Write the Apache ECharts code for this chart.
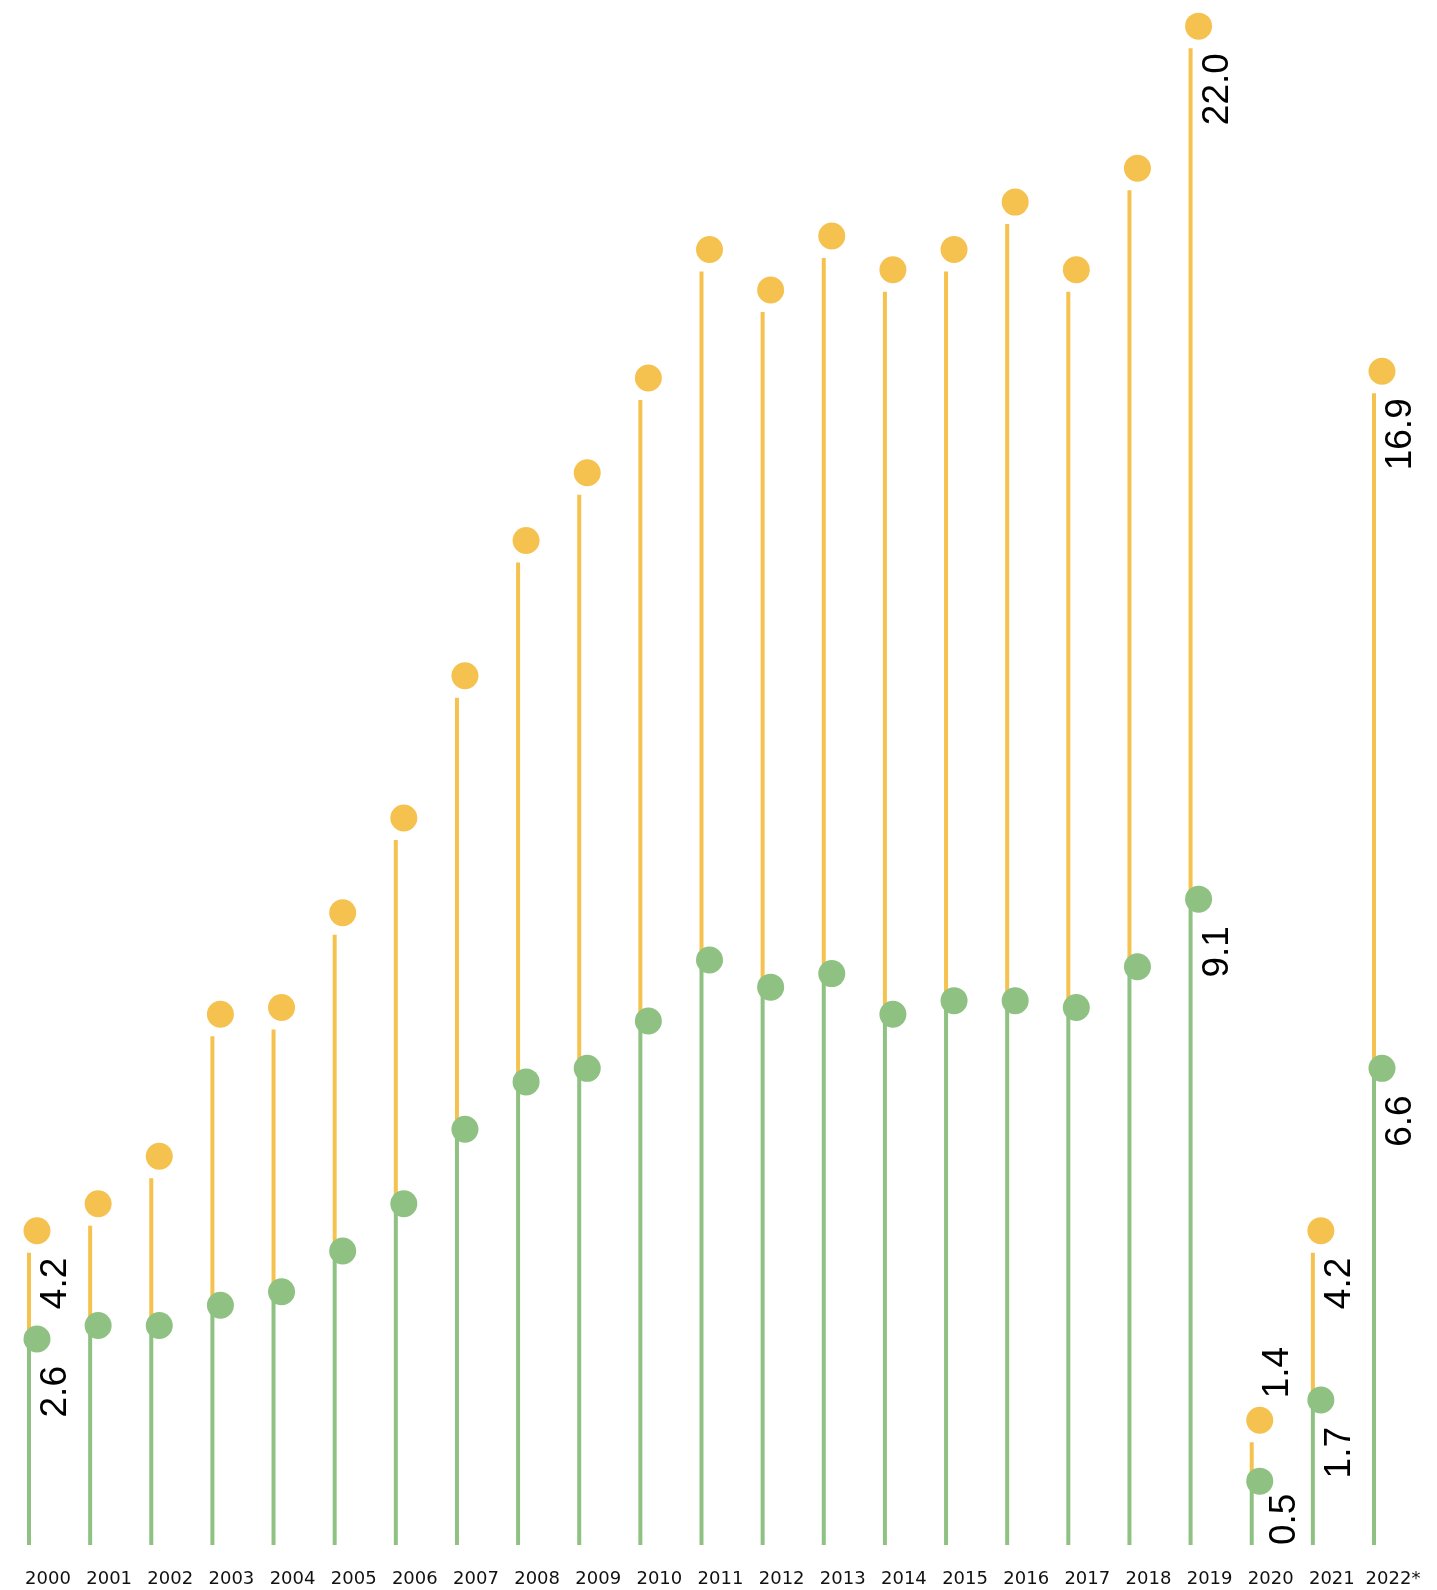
<!DOCTYPE html>
<html><head><meta charset="utf-8">
<script src="https://cdn.jsdelivr.net/npm/echarts@6/dist/echarts.min.js"></script>
<style>html,body{margin:0;padding:0;background:#fff}#c{width:1437px;height:1590px}</style>
</head><body><div id="c"></div>
<script>
const years = ['2000','2001','2002','2003','2004','2005','2006','2007','2008','2009','2010','2011','2012','2013','2014','2015','2016','2017','2018','2019','2020','2021','2022*'];
const greenValues = [2.6,2.8,2.8,3.1,3.3,3.9,4.6,5.7,6.4,6.6,7.3,8.2,7.8,8.0,7.4,7.6,7.6,7.5,8.1,9.1,0.5,1.7,6.6];
const yellowValues = [4.2,4.6,5.3,7.4,7.5,8.9,10.3,12.4,14.4,15.4,16.8,18.7,18.1,18.9,18.4,18.7,19.4,18.4,19.9,22.0,1.4,4.2,16.9];
const labelledYears = ['2000','2019','2020','2021','2022*'];

const YELLOW = '#F5C24F', GREEN = '#8EC182';
const FONT = '"Liberation Sans", Arial, sans-serif';
const AXIS_FONT = '"DejaVu Sans", sans-serif';
const DOT_LIFT = 30, DOT_DX = 8, R = 13.5, LW = 4;
const special = { '2020': { yellow: 'aboveDot', green: 'base' } };

function mkText(x, y, txt, align) {
  return { type: 'text', x: x, y: y, rotation: Math.PI / 2,
    style: { text: txt, fill: '#000', fontSize: 37, fontFamily: FONT, align: align, verticalAlign: 'middle' } };
}

function renderItem(params, api) {
  const i = api.value(0), g = api.value(1), yv = api.value(2);
  const base = api.coord([i, 0]);
  const pg = api.coord([i, g]);
  const py = api.coord([i, yv]);
  const x = base[0];
  const gy = pg[1] - DOT_LIFT, yy = py[1] - DOT_LIFT;
  const ch = [
    { type: 'line', shape: { x1: x, y1: gy, x2: x, y2: py[1] - 8 }, style: { stroke: YELLOW, lineWidth: LW } },
    { type: 'line', shape: { x1: x, y1: base[1], x2: x, y2: gy }, style: { stroke: GREEN, lineWidth: LW } },
    { type: 'circle', shape: { cx: x + DOT_DX, cy: yy, r: R }, style: { fill: YELLOW } },
    { type: 'circle', shape: { cx: x + DOT_DX, cy: gy, r: R }, style: { fill: GREEN } }
  ];
  const yr = years[i];
  if (labelledYears.indexOf(yr) >= 0) {
    const sp = special[yr] || {};
    if (sp.yellow === 'aboveDot') ch.push(mkText(x + 26, yy - 22, yv.toFixed(1), 'left'));
    else ch.push(mkText(x + 27, py[1] - 3, yv.toFixed(1), 'right'));
    if (sp.green === 'base') ch.push(mkText(x + 33, base[1], g.toFixed(1), 'left'));
    else ch.push(mkText(x + 27, pg[1] - 3, g.toFixed(1), 'right'));
  }
  return { type: 'group', children: ch };
}

const chart = echarts.init(document.getElementById('c'));
chart.setOption({
  animation: false,
  grid: { left: 29, right: 63, top: 2, bottom: 45 },
  xAxis: { type: 'category', data: years, boundaryGap: false,
    axisLine: { show: false }, axisTick: { show: false }, splitLine: { show: false },
    axisLabel: { interval: 0, hideOverlap: false, margin: 25, fontSize: 18, color: '#111', fontFamily: AXIS_FONT, padding: [0, 0, 0, 38] } },
  yAxis: { type: 'value', min: 0, max: 22.8, show: false },
  series: [{ type: 'custom', renderItem: renderItem, clip: false,
    encode: { x: 0, y: [1, 2] },
    data: years.map((y, i) => [i, greenValues[i], yellowValues[i]]) }]
});
</script></body></html>
